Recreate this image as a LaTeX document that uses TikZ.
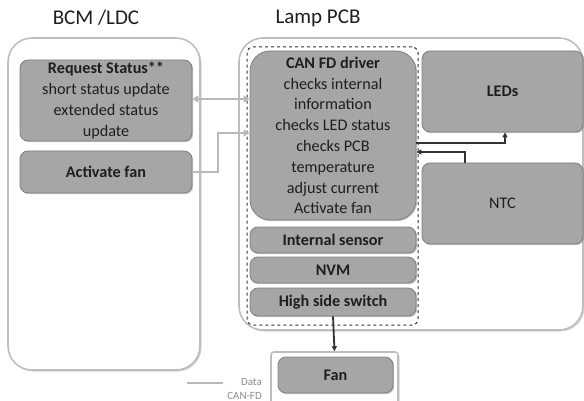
\documentclass[tikz,border=0pt]{standalone}
\usepackage{fontspec}
\setmainfont{Carlito}
\usetikzlibrary{shadows,arrows.meta}
\definecolor{boxfill}{RGB}{166,166,166}
\definecolor{boxline}{RGB}{128,128,128}
\definecolor{outline}{RGB}{190,190,190}
\definecolor{txt}{RGB}{30,30,30}
\definecolor{lightarrow}{RGB}{185,185,185}
\definecolor{darkarrow}{RGB}{50,50,50}
\begin{document}
\begin{tikzpicture}[x=1pt,y=-1pt,
  outerbox/.style={draw=outline, line width=1.6pt, fill=white, rounded corners=24pt,
     drop shadow={shadow xshift=1.5pt, shadow yshift=-1.5pt, opacity=0.35}, inner sep=0pt},
  graybox/.style={draw=boxline, line width=0.8pt, fill=boxfill, rounded corners=8pt,
     drop shadow={shadow xshift=1.2pt, shadow yshift=-1.2pt, opacity=0.45},
     text=txt, align=center, inner sep=0pt, font=\fontsize{16.2}{20.8}\selectfont},
  title/.style={font=\fontsize{21}{24}\selectfont, text=txt},
  lightarr/.style={draw=lightarrow, line width=2.4pt, -{Triangle[length=6pt,width=7pt]}},
  darkarr/.style={draw=darkarrow, line width=1.8pt, -{Triangle[length=5pt,width=5pt]}},
]
\useasboundingbox (0,0) rectangle (584,401);
\clip (0,0) rectangle (584,401);
\fill[white] (0,0) rectangle (584,401);

\node[title] (t1) at (96,18) {BCM /LDC};
\node[title] (t2) at (318,18) {Lamp PCB};

% left outer
\node[outerbox, minimum width=192pt, minimum height=332pt] (lo) at (104,204) {};
\node[graybox, minimum width=172pt, minimum height=81pt] (req) at (106,100.5)
  {\textbf{Request Status**}\\short status update\\extended status\\update};
\node[graybox, minimum width=172pt, minimum height=42pt] (act) at (106,172) {\textbf{Activate fan}};

% right outer
\node[outerbox, minimum width=344pt, minimum height=292pt] (ro) at (411,184) {};
\node[draw=black!80, dashed, line width=1pt, rounded corners=6pt, minimum width=171pt, minimum height=278pt, inner sep=0pt] (dash) at (332.5,186) {};
\node[graybox, rounded corners=20pt, minimum width=166pt, minimum height=169pt] (can) at (333,135.5)
  {\textbf{CAN FD driver}\\checks internal\\information\\checks LED status\\checks PCB\\temperature\\adjust current\\Activate fan};
\node[graybox, minimum width=166pt, minimum height=26pt] (ins) at (333,240) {\textbf{Internal sensor}};
\node[graybox, minimum width=166pt, minimum height=26pt] (nvm) at (333,270) {\textbf{NVM}};
\node[graybox, minimum width=166pt, minimum height=28pt] (hss) at (333,302) {\textbf{High side switch}};
\node[graybox, minimum width=161pt, minimum height=81pt] (leds) at (502.5,91.5) {\textbf{LEDs}};
\node[graybox, minimum width=161pt, minimum height=81pt] (ntc) at (502.5,203.5) {NTC};

% fan
\node[draw=outline, line width=1.6pt, fill=white, rounded corners=3pt, minimum width=127pt, minimum height=58pt, inner sep=0pt,
  drop shadow={shadow xshift=1.5pt, shadow yshift=-1.5pt, opacity=0.35}] (fo) at (334.5,381) {};
\node[graybox, minimum width=115pt, minimum height=36pt] (fan) at (335.5,375) {\textbf{Fan}};

% light arrows
\draw[draw=lightarrow, line width=2.4pt, {Triangle[length=6pt,width=7pt]}-{Triangle[length=6pt,width=7pt]}]
  (req.east |- 0,99) -- (can.west |- 0,99);
\coordinate (b1) at (218,172);
\coordinate (b2) at (218,133);
\draw[lightarr] (act.east) -- (b1) -- (b2) -- (can.west |- b2);

% dark arrows
\coordinate (l1) at (505,143);
\draw[darkarr] (can.east |- l1) -- (l1) -- (leds.south -| l1);
\coordinate (n1) at (465,152);
\draw[darkarr] (ntc.north -| n1) -- (n1) -- (can.east |- n1);
\draw[darkarr] (hss.south) -- (fo.north);

% legend
\coordinate (g1) at (187,383);
\coordinate (g2) at (223,383);
\draw[draw=lightarrow, line width=1.2pt] (g1) -- (g2);
\node[anchor=east, text=black!45, font=\fontsize{11}{13.5}\selectfont, align=right, inner sep=0pt] (leg) at (262,389) {Data\\CAN-FD};
\end{tikzpicture}
\end{document}
